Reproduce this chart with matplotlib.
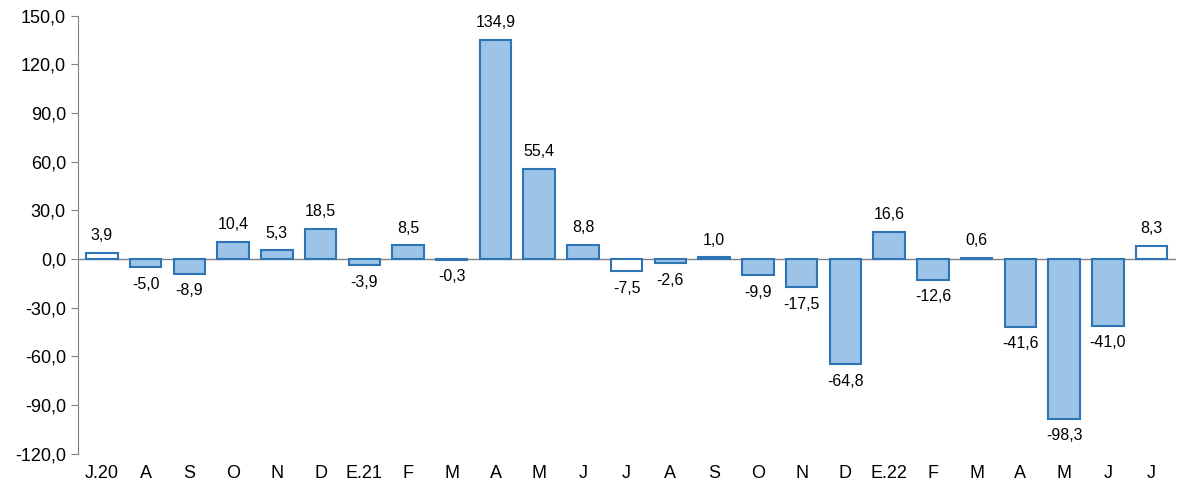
import matplotlib
matplotlib.use("Agg")
import matplotlib.pyplot as plt
plt.rcParams['font.family'] = ['Liberation Sans', 'DejaVu Sans']

categories = ["J.20","A","S","O","N","D","E.21","F","M","A","M","J","J","A","S","O","N","D","E.22","F","M","A","M","J","J"]
values = [3.9,-5.0,-8.9,10.4,5.3,18.5,-3.9,8.5,-0.3,134.9,55.4,8.8,-7.5,-2.6,1.0,-9.9,-17.5,-64.8,16.6,-12.6,0.6,-41.6,-98.3,-41.0,8.3]
hollow = [0, 12, 24]

fig = plt.figure(figsize=(11.78, 4.87), dpi=100)
ax = fig.add_axes([0.066, 0.068, 0.932, 0.90])
x = list(range(len(values)))
colors = ["white" if i in hollow else "#9DC3E6" for i in x]
ax.bar(x, values, width=0.72, color=colors, edgecolor="#2E75B6", linewidth=1.5, zorder=3)
ax.axhline(0, color="#808080", linewidth=1, zorder=2)
for i, v in enumerate(values):
    s = f"{v:.1f}".replace(".", ",")
    if v >= 0:
        ax.text(i, v + 6, s, ha="center", va="bottom", fontsize=11.5)
    else:
        ax.text(i, v - 6, s, ha="center", va="top", fontsize=11.5)
ax.set_ylim(-120, 150)
ax.set_xlim(-0.55, len(values) - 0.45)
yt = list(range(-120, 151, 30))
ax.set_yticks(yt)
ax.set_yticklabels([f"{t:.1f}".replace(".", ",") for t in yt], fontsize=13)
ax.set_xticks(x)
ax.set_xticklabels(categories, fontsize=13)
ax.tick_params(axis="x", length=0, pad=8)
ax.tick_params(axis="y", length=5, color="#808080")
for s in ["top", "right", "bottom"]:
    ax.spines[s].set_visible(False)
ax.spines["left"].set_color("#808080")
fig.savefig("out.png", dpi=100)
